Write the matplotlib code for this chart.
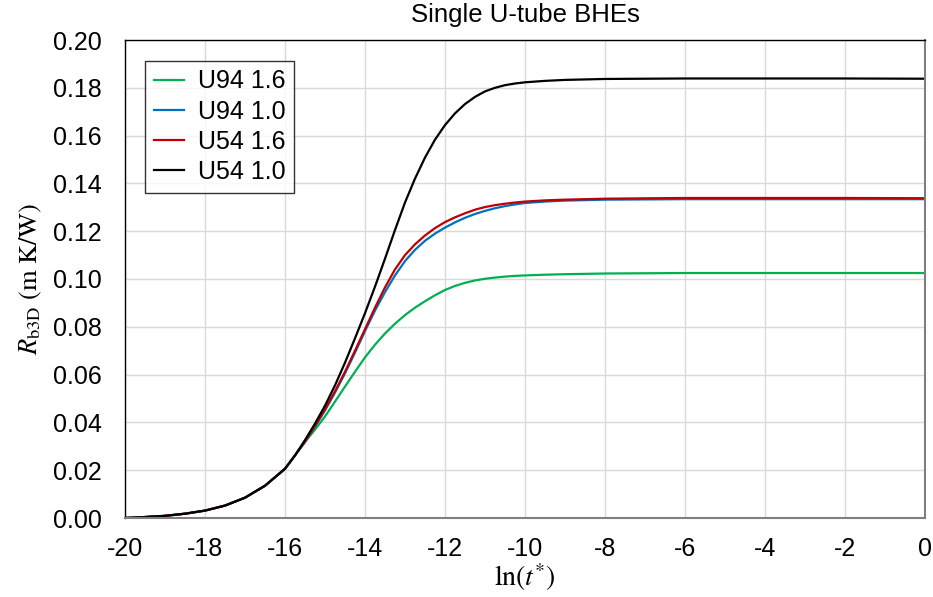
import matplotlib
matplotlib.use("Agg")
import matplotlib.pyplot as plt

# ==============================
# DATA
# ==============================

ln_t = [-20, -19.5, -19, -18.5, -18, -17.5, -17, -16.5, -16, -15.75,
        -15.5, -15.25, -15, -14.75, -14.5, -14.25, -14, -13.75, -13.5, -13.25,
        -13, -12.75, -12.5, -12.25, -12, -11.75, -11.5, -11.25, -11, -10.75,
        -10.5, -10.25, -10, -9.5, -9, -8, -6, -4, -2, 0]

# all four curves coincide below ln(t*) = -15.75
low_part = [0.0, 0.0004, 0.0009, 0.0018, 0.0031, 0.0052, 0.0085, 0.0135, 0.0206, 0.0262]

u94_16 = low_part + [0.0318, 0.0370, 0.0425, 0.0487, 0.0550, 0.0612, 0.0672, 0.0725,
                     0.0772, 0.0813, 0.0849, 0.0880, 0.0907, 0.0932, 0.0954, 0.0971,
                     0.0984, 0.0994, 0.1001, 0.1006, 0.1010, 0.1013, 0.1015,
                     0.1018, 0.1020, 0.1023, 0.1025, 0.1025, 0.1025, 0.1025]
u94_10 = low_part + [0.0318, 0.0383, 0.0450, 0.0525, 0.0605, 0.0692, 0.0782, 0.0868,
                     0.0945, 0.1015, 0.1075, 0.1122, 0.1160, 0.1190, 0.1215, 0.1237,
                     0.1256, 0.1272, 0.1285, 0.1296, 0.1305, 0.1312, 0.1318,
                     0.1324, 0.1328, 0.1332, 0.1334, 0.1334, 0.1334, 0.1334]
u54_16 = low_part + [0.0320, 0.0385, 0.0455, 0.0530, 0.0612, 0.0700, 0.0790, 0.0880,
                     0.0965, 0.1040, 0.1100, 0.1145, 0.1182, 0.1213, 0.1238, 0.1258,
                     0.1275, 0.1290, 0.1301, 0.1309, 0.1315, 0.1320, 0.1324,
                     0.1329, 0.1332, 0.1336, 0.1339, 0.1339, 0.1339, 0.1338]
u54_10 = low_part + [0.0326, 0.0395, 0.0470, 0.0555, 0.0650, 0.0752, 0.0857, 0.0968,
                     0.1085, 0.1205, 0.1320, 0.1420, 0.1508, 0.1583, 0.1644, 0.1693,
                     0.1732, 0.1762, 0.1785, 0.1800, 0.1811, 0.1818, 0.1823,
                     0.1829, 0.1833, 0.1837, 0.1839, 0.1839, 0.1839, 0.1838]

labels = ["U94 1.6", "U94 1.0", "U54 1.6", "U54 1.0"]
colors = ["#00B050", "#0070C0", "#C00000", "#000000"]

x_ticks = list(range(-20, 1, 2))
y_ticks = [0.00, 0.02, 0.04, 0.06, 0.08, 0.10, 0.12, 0.14, 0.16, 0.18, 0.20]

# ==============================
# PLOT
# ==============================

plt.rcParams["font.family"] = ["Liberation Sans", "DejaVu Sans"]
plt.rcParams["mathtext.fontset"] = "stix"

fig = plt.figure(figsize=(9.33, 5.97), dpi=100)
ax = fig.add_axes([125 / 933, 79 / 597, 800 / 933, 478 / 597])

for series, label, color in zip([u94_16, u94_10, u54_16, u54_10], labels, colors):
    ax.plot(ln_t, series, color=color, lw=1.6, label=label)

ax.set_xlim(-20, 0)
ax.set_ylim(0, 0.20)
ax.set_xticks(x_ticks)
ax.set_xticklabels([str(v) for v in x_ticks])
ax.set_yticks(y_ticks)
ax.set_yticklabels([f"{v:.2f}" for v in y_ticks])
ax.tick_params(axis="both", length=0, labelsize=18)
ax.tick_params(axis="y", pad=17)
ax.tick_params(axis="x", pad=14)

ax.grid(True, color="#d9d9d9", lw=1)
ax.set_axisbelow(True)

for side in ["top", "left"]:
    ax.spines[side].set_color("black")
    ax.spines[side].set_linewidth(1.0)
for side in ["bottom", "right"]:
    ax.spines[side].set_color("#7f7f7f")
    ax.spines[side].set_linewidth(1.5)

ax.set_title("Single U-tube BHEs", fontsize=18.5, pad=13)
ax.set_xlabel(r"$\mathrm{ln}(t^{*})$", fontsize=20, labelpad=0)
ax.set_ylabel(r"$R_{\mathrm{b3D}}\ (\mathrm{m\ K/W})$", fontsize=19, labelpad=6)

leg = ax.legend(loc="upper left", bbox_to_anchor=(0.025, 0.957), fontsize=18,
                frameon=True, fancybox=False, edgecolor="black",
                borderpad=0.35, labelspacing=0.25, handlelength=1.2,
                handletextpad=0.55, borderaxespad=0)
leg.get_frame().set_linewidth(1.0)

plt.savefig("out.png", dpi=100)
